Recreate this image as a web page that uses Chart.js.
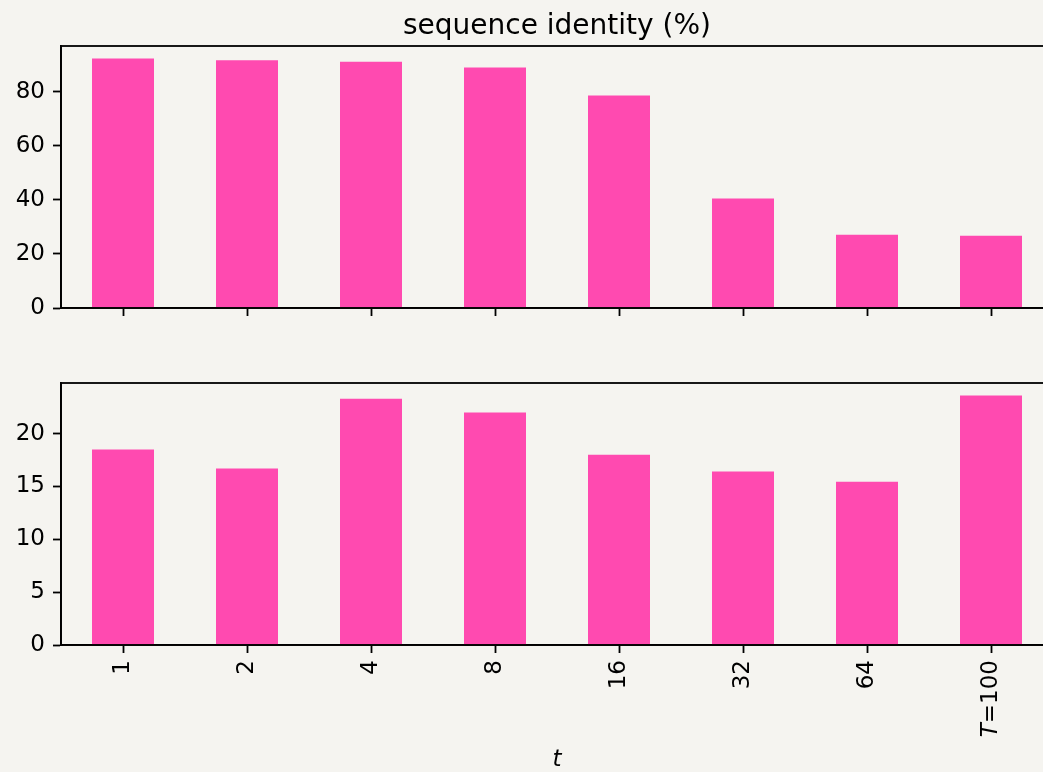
<!DOCTYPE html>
<html>
<head>
<meta charset="utf-8">
<script src="https://cdn.jsdelivr.net/npm/chart.js@4.4.1/dist/chart.umd.min.js"></script>
<style>
  html, body { margin: 0; padding: 0; background: #f5f4f0; overflow: hidden; }
  #wrap { position: relative; width: 1043px; height: 772px; overflow: hidden; }
  .box { position: absolute; left: 0; }
</style>
</head>
<body>
<div id="wrap">
  <div class="box" style="top:0"><canvas id="top" width="1060" height="340"></canvas></div>
  <div class="box" style="top:340px"><canvas id="bottom" width="1060" height="432"></canvas></div>
</div>
<script>
const steps = ['1', '2', '4', '8', '16', '32', '64', 'T=100'];
const identity = [92.3, 91.6, 91.1, 89.0, 78.6, 40.5, 27.1, 26.7];
const lower = [18.5, 16.7, 23.3, 22.0, 18.0, 16.4, 15.45, 23.6];

const barColor = '#ff4ab0';
const font = { family: 'DejaVu Sans', size: 23 };
const mixedLabel = 'T=100'; // drawn by hand so the T can be italic

// matplotlib style box around the plot area, a title centred on the axes,
// and the one tick label that needs two font styles
const frame = {
    id: 'frame',
    afterDraw(chart, args, opts) {
        const { ctx, chartArea: a } = chart;
        ctx.save();
        ctx.strokeStyle = '#000';
        ctx.lineWidth = 1.8;
        ctx.strokeRect(a.left, a.top, a.right - a.left, a.bottom - a.top);
        ctx.fillStyle = '#000';
        if (opts.text) {
            ctx.font = '28px "DejaVu Sans"';
            ctx.textAlign = 'center';
            ctx.textBaseline = 'alphabetic';
            ctx.fillText(opts.text, (a.left + a.right) / 2, a.top - 12);
        }
        if (opts.labels) {
            const i = steps.indexOf(mixedLabel);
            const x = chart.scales.x.getPixelForTick(i);
            ctx.translate(x, a.bottom + 8 + 7);
            ctx.rotate(-Math.PI / 2);
            ctx.textAlign = 'right';
            ctx.textBaseline = 'middle';
            const rest = mixedLabel.slice(1);
            ctx.font = '23px "DejaVu Sans"';
            ctx.fillText(rest, 0, 0);
            const w = ctx.measureText(rest).width;
            ctx.font = 'italic 23px "DejaVu Sans"';
            ctx.fillText(mixedLabel[0], -w, 0);
        }
        ctx.restore();
    }
};

function makeChart(id, values, step, opts) {
    return new Chart(document.getElementById(id), {
        type: 'bar',
        data: {
            labels: steps,
            datasets: [{
                data: values,
                backgroundColor: barColor,
                barPercentage: 0.5,
                categoryPercentage: 1,
            }],
        },
        plugins: [frame],
        options: {
            responsive: false,
            devicePixelRatio: 1,
            animation: false,
            layout: { padding: opts.padding },
            plugins: {
                legend: { display: false },
                tooltip: { enabled: false },
                frame: { text: opts.title, labels: opts.showLabels },
            },
            scales: {
                x: {
                    grid: {
                        offset: false,
                        drawOnChartArea: false,
                        tickLength: 8,
                        tickColor: '#000',
                        tickWidth: 1.8,
                    },
                    border: { color: '#000', width: 1.8 },
                    ticks: {
                        display: opts.showLabels,
                        color: '#000',
                        font: font,
                        padding: 7,
                        minRotation: 90,
                        maxRotation: 90,
                        callback: (v, i) => steps[i] === mixedLabel ? '' : steps[i],
                    },
                    title: opts.xTitle,
                    afterFit: (s) => { s.height = opts.xHeight; },
                },
                y: {
                    min: 0,
                    max: Math.max(...values) * 1.05,
                    grid: {
                        drawOnChartArea: false,
                        tickLength: 8,
                        tickColor: '#000',
                        tickWidth: 1.8,
                    },
                    border: { color: '#000', width: 1.8 },
                    ticks: {
                        stepSize: step,
                        color: '#000',
                        font: font,
                        padding: 8,
                    },
                    afterBuildTicks: (s) => {
                        s.ticks = s.ticks.filter(t => t.value % step === 0);
                    },
                    afterFit: (s) => { s.width = 61; },
                },
            },
        },
    });
}

// plot area runs a little past the window's right edge, as in the original
makeChart('top', identity, 20, {
    padding: { left: 0, right: 7, top: 46, bottom: 0 },
    title: 'sequence identity (%)',
    showLabels: false,
    xTitle: { display: false },
    xHeight: 32,
});

makeChart('bottom', lower, 5, {
    padding: { left: 0, right: 7, top: 43, bottom: 0 },
    title: '',
    showLabels: true,
    xTitle: {
        display: true,
        text: 't',
        color: '#000',
        font: { family: 'DejaVu Sans', size: 23, style: 'italic', lineHeight: 1 },
        padding: { top: 0, bottom: 0 },
    },
    xHeight: 127,
});
</script>
</body>
</html>
